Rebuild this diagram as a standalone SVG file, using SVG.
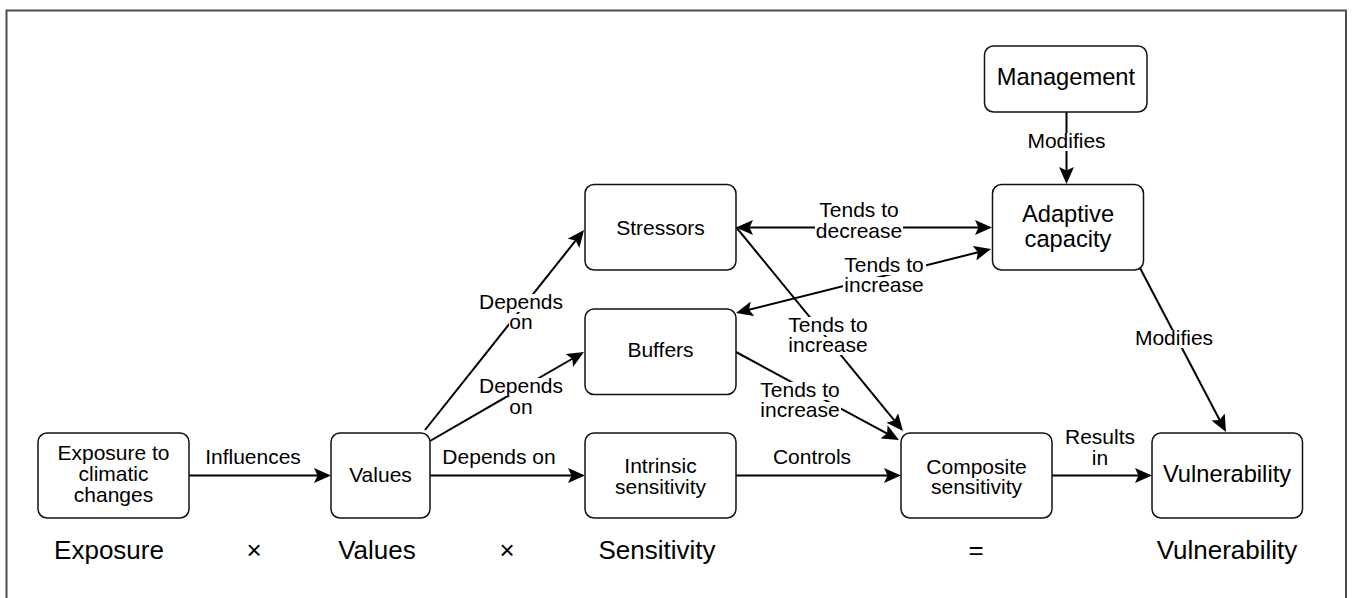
<svg xmlns="http://www.w3.org/2000/svg" width="1352" height="598" viewBox="0 0 1352 598">
<style>
text{font-family:"Liberation Sans",Arial,sans-serif;fill:#000;text-anchor:middle}
.n{fill:#fff;stroke:#111;stroke-width:1.5}
.t{font-size:21px}
.tb{font-size:23.7px}
.el{font-size:21px}
.bl{font-size:26px}
.e{fill:none;stroke:#000;stroke-width:2}
.bg{fill:#fff}
</style>
<defs>
<marker id="ah" markerUnits="userSpaceOnUse" markerWidth="17" markerHeight="15" refX="11" refY="7.5" orient="auto-start-reverse" viewBox="0 0 17 15">
<path d="M0,0 L17,7.5 L0,15 L3.5,7.5 Z" fill="#000"/>
</marker>
</defs>
<rect x="6.5" y="10.5" width="1339.5" height="620" fill="#fff" stroke="#4d4d4d" stroke-width="2"/>
<g id="connectors">
<line class="e" x1="189" y1="475.5" x2="325" y2="475.5" marker-end="url(#ah)"/>
<text class="el" x="253" y="464">Influences</text>
<line class="e" x1="430" y1="475.5" x2="579" y2="475.5" marker-end="url(#ah)"/>
<text class="el" x="499" y="464">Depends on</text>
<line class="e" x1="736" y1="475.5" x2="895" y2="475.5" marker-end="url(#ah)"/>
<text class="el" x="812" y="464">Controls</text>
<line class="e" x1="1052" y1="475.5" x2="1146" y2="475.5" marker-end="url(#ah)"/>
<text class="el" x="1100" y="444"><tspan x="1100">Results</tspan><tspan x="1100" dy="21">in</tspan></text>
<line class="e" x1="425" y1="430" x2="580.3" y2="234.7" marker-end="url(#ah)"/>
<rect class="bg" x="478" y="294" width="86" height="18"/>
<rect class="bg" x="509" y="314" width="25" height="18"/>
<text class="el" x="521" y="309"><tspan x="521">Depends</tspan><tspan x="521" dy="20">on</tspan></text>
<line class="e" x1="430" y1="441" x2="578.8" y2="355" marker-end="url(#ah)"/>
<rect class="bg" x="478" y="378" width="86" height="18"/>
<rect class="bg" x="509" y="399" width="25" height="18"/>
<text class="el" x="521" y="393"><tspan x="521">Depends</tspan><tspan x="521" dy="21">on</tspan></text>
<line class="e" x1="742" y1="227.5" x2="986" y2="227.5" marker-start="url(#ah)" marker-end="url(#ah)"/>
<rect class="bg" x="817" y="202" width="84" height="18"/>
<rect class="bg" x="815" y="223" width="88" height="18"/>
<text class="el" x="859" y="217"><tspan x="859">Tends to</tspan><tspan x="859" dy="21">decrease</tspan></text>
<line class="e" x1="741.8" y1="311.5" x2="985.2" y2="250.5" marker-start="url(#ah)" marker-end="url(#ah)"/>
<rect class="bg" x="842" y="257" width="84" height="18"/>
<rect class="bg" x="843" y="277" width="82" height="18"/>
<text class="el" x="884" y="272"><tspan x="884">Tends to</tspan><tspan x="884" dy="20">increase</tspan></text>
<line class="e" x1="736" y1="227" x2="899.2" y2="426.4" marker-end="url(#ah)"/>
<rect class="bg" x="786" y="317" width="84" height="18"/>
<rect class="bg" x="787" y="337" width="82" height="18"/>
<text class="el" x="828" y="332"><tspan x="828">Tends to</tspan><tspan x="828" dy="20">increase</tspan></text>
<line class="e" x1="736" y1="352" x2="893.7" y2="437.1" marker-end="url(#ah)"/>
<rect class="bg" x="758" y="382" width="84" height="18"/>
<rect class="bg" x="759" y="402" width="82" height="18"/>
<text class="el" x="800" y="397"><tspan x="800">Tends to</tspan><tspan x="800" dy="20">increase</tspan></text>
<line class="e" x1="1066.5" y1="112" x2="1066.5" y2="178" marker-end="url(#ah)"/>
<rect class="bg" x="1027" y="133" width="80" height="18"/>
<text class="el" x="1066.5" y="148">Modifies</text>
<line class="e" x1="1140" y1="268" x2="1223.2" y2="426.7" marker-end="url(#ah)"/>
<rect class="bg" x="1134" y="330" width="80" height="18"/>
<text class="el" x="1174" y="345">Modifies</text>
</g>
<g id="exposure">
<rect class="n" x="38" y="433" width="151" height="85" rx="9"/>
<text class="t" x="113.5" y="460"><tspan x="113.5">Exposure to</tspan><tspan x="113.5" dy="21">climatic</tspan><tspan x="113.5" dy="21">changes</tspan></text>
</g>
<g id="values">
<rect class="n" x="331" y="433" width="99" height="85" rx="9"/>
<text class="t" x="380.5" y="482">Values</text>
</g>
<g id="intrinsic">
<rect class="n" x="585" y="433" width="151" height="85" rx="9"/>
<text class="t" x="660.5" y="473"><tspan x="660.5">Intrinsic</tspan><tspan x="660.5" dy="20.5">sensitivity</tspan></text>
</g>
<g id="stressors">
<rect class="n" x="585" y="184.5" width="151" height="85.5" rx="9"/>
<text class="t" x="660.5" y="235">Stressors</text>
</g>
<g id="buffers">
<rect class="n" x="585" y="309" width="151" height="85.5" rx="9"/>
<text class="t" x="660.5" y="357">Buffers</text>
</g>
<g id="composite">
<rect class="n" x="901" y="433" width="151" height="85" rx="9"/>
<text class="t" x="976.5" y="473.5"><tspan x="976.5">Composite</tspan><tspan x="976.5" dy="20">sensitivity</tspan></text>
</g>
<g id="vulnerability">
<rect class="n" x="1152" y="433" width="150.5" height="85" rx="9"/>
<text class="tb" x="1227" y="482">Vulnerability</text>
</g>
<g id="management">
<rect class="n" x="984.5" y="46" width="162.5" height="66" rx="9"/>
<text class="tb" x="1066" y="85">Management</text>
</g>
<g id="adaptive">
<rect class="n" x="992.5" y="184.5" width="151" height="85.5" rx="9"/>
<text class="tb" x="1068" y="221.5"><tspan x="1068">Adaptive</tspan><tspan x="1068" dy="25.5">capacity</tspan></text>
</g>
<g id="equation">
<text class="bl" x="109" y="559">Exposure</text>
<text class="bl" x="254" y="559">×</text>
<text class="bl" x="377" y="559">Values</text>
<text class="bl" x="507" y="559">×</text>
<text class="bl" x="657" y="559">Sensitivity</text>
<text class="bl" x="976" y="559">=</text>
<text class="bl" x="1227" y="559">Vulnerability</text>
</g>
</svg>
